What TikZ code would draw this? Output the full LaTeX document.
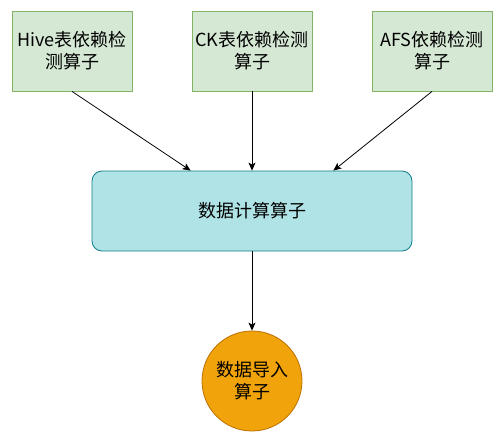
\documentclass[tikz,border=0pt]{standalone}
\usepackage{fontspec}
\setmainfont{Noto Sans CJK SC}
\usetikzlibrary{positioning,arrows.meta}

\definecolor{checkfill}{HTML}{D5E8D4}
\definecolor{checkline}{HTML}{82B366}
\definecolor{calcfill}{HTML}{B0E3E6}
\definecolor{calcline}{HTML}{0E8088}
\definecolor{loadfill}{HTML}{F0A30A}
\definecolor{loadline}{HTML}{BD7000}

\tikzset{
  checkbox/.style={draw=checkline,fill=checkfill,line width=0.8pt,
    minimum width=120pt,minimum height=80pt,inner sep=0pt,align=center,
    font=\fontsize{18}{22}\selectfont},
  calcbox/.style={draw=calcline,fill=calcfill,line width=0.8pt,rounded corners=10pt,
    minimum width=320pt,minimum height=80pt,inner sep=0pt,align=center,
    font=\fontsize{18}{22}\selectfont},
  loadcircle/.style={circle,draw=loadline,fill=loadfill,line width=0.8pt,
    minimum size=100pt,inner sep=0pt,align=center,
    font=\fontsize{18}{22}\selectfont},
  flow/.style={line width=0.8pt,-{Stealth[length=8pt,width=7pt,inset=2pt]}}
}

\begin{document}
\begin{tikzpicture}[x=1pt,y=-1pt]

  \useasboundingbox (0,0) rectangle (503,442);

  %% Dependency check operators
  \node[checkbox] (hive) at (72,51) {Hive表依赖检\\测算子};
  \node[checkbox] (ck) at (252,51) {CK表依赖检测\\算子};
  \node[checkbox] (afs) at (432,51) {AFS依赖检测\\算子};

  %% Compute and load operators
  \node[calcbox] (calc) at (252,211) {数据计算算子};
  \node[loadcircle] (load) at (252,381) {数据导入\\算子};

  %% Draw arrows
  \draw[flow] (hive.south) -- ([xshift=99pt]calc.north west);
  \draw[flow] (ck.south) -- (calc.north);
  \draw[flow] (afs.south) -- ([xshift=-79pt]calc.north east);
  \draw[flow] (calc.south) -- (load.north);

\end{tikzpicture}
\end{document}
